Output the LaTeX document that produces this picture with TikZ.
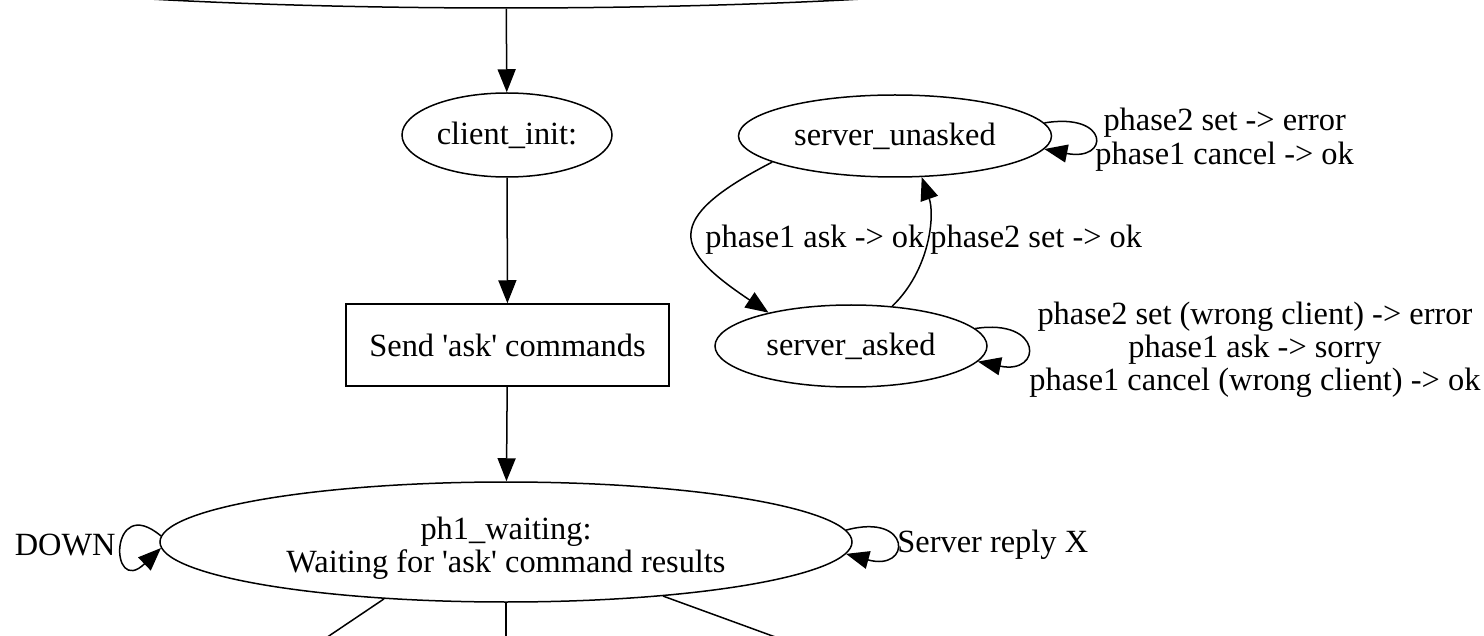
\documentclass[tikz,border=0pt]{standalone}
\usepackage{fontspec}
\setmainfont{Liberation Serif}
\usetikzlibrary{arrows.meta,shapes.geometric}
\begin{document}
\begin{tikzpicture}[x=0.5pt,y=-0.5pt,
  every node/.style={font=\fontsize{16.2}{16.5}\selectfont},
  state/.style={draw, ellipse, line width=0.75pt, inner sep=0pt},
  box/.style={draw, rectangle, line width=0.75pt, inner sep=0pt},
  lbl/.style={inner sep=0pt, align=center},
  edge/.style={line width=0.75pt, -{Triangle[length=11.5pt,width=9pt]}},
  plain/.style={line width=0.75pt}]
\useasboundingbox (0,0) rectangle (1484,636);
\clip (0,0) rectangle (1484,636);
% nodes
\node[state, minimum width=650pt, minimum height=55pt] (top) at (506,-47) {};
\node[state, minimum width=105pt, minimum height=42pt] (ci) at (507,135) {\raisebox{-1.5pt}{client\_init:}};
\node[box, minimum width=161.5pt, minimum height=41pt] (send) at (507.5,345) {\raisebox{-1pt}{Send \textquotesingle ask\textquotesingle\ commands}};
\node[state, minimum width=346pt, minimum height=60pt] (ph1) at (506,542) {};
\node[lbl] (ph1t) at (506,548) {ph1\_waiting:\\Waiting for \textquotesingle ask\textquotesingle\ command results};
\node[state, minimum width=156.5pt, minimum height=41pt] (su) at (895,136) {\raisebox{-1pt}{server\_unasked}};
\node[state, minimum width=136pt, minimum height=41pt] (sa) at (851,346) {\raisebox{-1pt}{server\_asked}};
% labels
\node[lbl, anchor=west, font=\fontsize{16.2}{17}\selectfont] (lsu) at (1095,140) {phase2 set -> error\\phase1 cancel -> ok};
\node[lbl, anchor=west] (lsa) at (1029,350) {phase2 set (wrong client) -> error\\phase1 ask -> sorry\\phase1 cancel (wrong client) -> ok};
\node[lbl, anchor=west] (lask) at (705,240) {phase1 ask -> ok};
\node[lbl, anchor=west] (lset) at (930,240) {phase2 set -> ok};
\node[lbl, anchor=east] (ldown) at (116,545) {DOWN};
\node[lbl, anchor=west] (lrep) at (897,545) {Server reply X};
% off-picture ends
\coordinate (b1) at (314,646);
\coordinate (b2) at (506,646);
\coordinate (b3) at (800,646);
% edges
\draw[edge] (top) -- (ci);
\draw[edge] (ci) -- (send);
\draw[edge] (send) -- (ph1);
\draw[plain] (ph1.205.4) -- (b1);
\draw[plain] (ph1.south) -- (b2);
\draw[plain] (ph1.341.6) -- (b3);
\draw[edge] (su.192) .. controls (660,220) and (675,250) .. (sa.158);
\draw[edge] (sa.44) .. controls (930,270) and (935,215) .. (su.303.4);
\draw[edge] (su.5) .. controls (1110,112) and (1110,162) .. (su.-5);
\draw[edge] (sa.8) .. controls (1043,318) and (1043,375) .. (sa.-7);
\draw[edge] (ph1.2.5) .. controls (912,512) and (912,572) .. (ph1.-2.5);
\draw[edge] (ph1.179) .. controls (109,492) and (109,598) .. (ph1.181);
\end{tikzpicture}
\end{document}
